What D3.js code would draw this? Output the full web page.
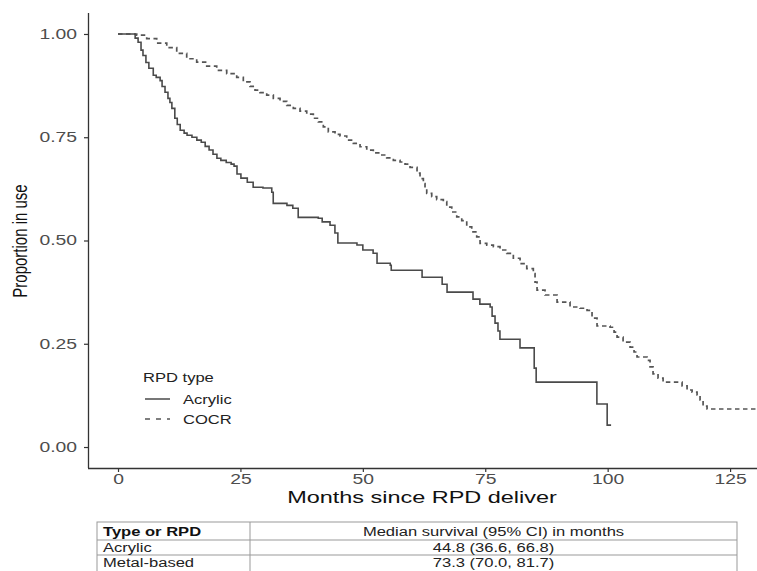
<!DOCTYPE html>
<html>
<head>
<meta charset="utf-8">
<script src="https://cdn.jsdelivr.net/npm/d3@7"></script>
<style>
  html, body { margin: 0; padding: 0; background: #fff; }
  svg { display: block; font-family: "Liberation Sans", Arial, sans-serif; }
</style>
</head>
<body>
<svg id="chart" width="757" height="571"></svg>
<script>
// ---- data ----
const acrylicTime = [0, 3.5, 4.1, 4.7, 5.1, 5.7, 6.3, 7.2, 7.8, 8.6, 9.0, 9.6, 10.2, 10.6, 11.0, 11.6, 12.1, 12.7, 13.5, 14.1, 15.1, 16.1, 17.0, 17.8, 18.6, 19.4, 20.2, 21.0, 22.1, 23.1, 23.7, 24.3, 25.1, 26.4, 27.6, 29.6, 31.4, 31.7, 34.5, 35.7, 36.8, 40.9, 41.7, 43.3, 44.3, 44.9, 48.8, 50.0, 52.1, 52.9, 55.6, 55.8, 62.1, 66.2, 67.2, 72.5, 73.9, 76.0, 76.4, 77.0, 77.6, 78.0, 82.1, 85.0, 85.4, 97.8, 99.9, 100.7];
const acrylicSurv = [1, 0.99, 0.980, 0.961, 0.948, 0.931, 0.917, 0.900, 0.895, 0.887, 0.873, 0.859, 0.844, 0.834, 0.820, 0.796, 0.781, 0.767, 0.760, 0.755, 0.750, 0.743, 0.738, 0.728, 0.719, 0.709, 0.699, 0.694, 0.689, 0.685, 0.680, 0.661, 0.651, 0.641, 0.629, 0.627, 0.617, 0.590, 0.585, 0.578, 0.556, 0.554, 0.545, 0.537, 0.518, 0.494, 0.489, 0.477, 0.469, 0.445, 0.440, 0.428, 0.411, 0.394, 0.375, 0.358, 0.346, 0.339, 0.317, 0.300, 0.281, 0.261, 0.240, 0.191, 0.157, 0.104, 0.053, 0.053];

const cocrTime = [0, 3.06, 3.82, 5.86, 7.90, 9.95, 11.99, 14.03, 16.07, 18.12, 20.16, 22.20, 24.24, 25.59, 26.96, 27.98, 29.00, 30.37, 31.72, 33.09, 34.46, 35.80, 37.17, 38.54, 39.89, 40.91, 41.93, 42.95, 44.32, 45.34, 46.71, 48.06, 49.43, 50.80, 52.14, 53.51, 54.88, 56.23, 57.60, 58.62, 59.64, 61.07, 61.68, 62.36, 62.70, 63.05, 64.07, 65.09, 66.44, 67.14, 68.16, 69.18, 70.20, 71.22, 72.24, 73.26, 73.94, 75.31, 76.66, 78.02, 79.39, 80.74, 82.11, 83.48, 84.82, 85.17, 85.58, 87.21, 89.67, 92.32, 94.36, 95.79, 96.81, 97.83, 100.49, 101.31, 101.92, 103.15, 104.58, 105.39, 106.00, 108.05, 108.66, 109.27, 110.29, 111.32, 115.20, 116.22, 117.24, 118.26, 118.87, 119.49, 120.30, 131];
const cocrSurv = [1, 1, 0.997, 0.989, 0.978, 0.967, 0.953, 0.940, 0.932, 0.922, 0.912, 0.904, 0.895, 0.884, 0.873, 0.864, 0.858, 0.852, 0.844, 0.837, 0.827, 0.820, 0.813, 0.806, 0.796, 0.787, 0.775, 0.763, 0.757, 0.753, 0.743, 0.735, 0.727, 0.719, 0.712, 0.707, 0.700, 0.694, 0.690, 0.685, 0.677, 0.663, 0.650, 0.638, 0.626, 0.614, 0.606, 0.599, 0.594, 0.581, 0.569, 0.557, 0.548, 0.533, 0.521, 0.509, 0.493, 0.489, 0.485, 0.477, 0.469, 0.457, 0.444, 0.432, 0.420, 0.399, 0.380, 0.368, 0.351, 0.339, 0.336, 0.331, 0.312, 0.293, 0.290, 0.278, 0.266, 0.254, 0.242, 0.230, 0.218, 0.210, 0.194, 0.177, 0.167, 0.157, 0.148, 0.138, 0.133, 0.126, 0.114, 0.099, 0.092, 0.092];

const xTicks = [0, 25, 50, 75, 100, 125];
const yTicks = [0, 0.25, 0.5, 0.75, 1];
const legendTitle = "RPD type";
const legendLabels = ["Acrylic", "COCR"];
const xTitle = "Months since RPD deliver";
const yTitle = "Proportion in use";
const tableHeader = ["Type or RPD", "Median survival (95% CI) in months"];
const tableTypes = ["Acrylic", "Metal-based"];
const tableMedians = ["44.8 (36.6, 66.8)", "73.3 (70.0, 81.7)"];

// ---- layout ----
const SX = 1.38; // horizontal stretch of the original image
const svg = d3.select("#chart");
const x = d3.scaleLinear().domain([-6.13, 130.5]).range([88, 757]);
const y = d3.scaleLinear().domain([-0.0508, 1.0508]).range([468, 13]);

function stretchedText(g, tx, ty, str, opts) {
  return g.append("text")
    .attr("transform", `translate(${tx},${ty}) scale(${SX},1)` + (opts.rotate ? ` rotate(${opts.rotate})` : ""))
    .attr("text-anchor", opts.anchor || "start")
    .attr("font-size", opts.size)
    .attr("fill", opts.fill || "#000")
    .attr("font-weight", opts.weight || "normal")
    .text(str);
}

// clip
svg.append("clipPath").attr("id", "clip").append("rect")
  .attr("x", 88).attr("y", 0).attr("width", 669).attr("height", 468);

// curves
const line = d3.line().x(d => x(d[0])).y(d => y(d[1])).curve(d3.curveStepAfter);
const acrylic = acrylicTime.map((t, i) => [t, acrylicSurv[i]]);
const cocr = cocrTime.map((t, i) => [t, cocrSurv[i]]);
const plot = svg.append("g").attr("clip-path", "url(#clip)");
plot.append("path").datum(cocr).attr("d", line)
  .attr("fill", "none").attr("stroke", "#555").attr("stroke-width", 1.7)
  .attr("stroke-dasharray", "4.5,3.5");
plot.append("path").datum(acrylic).attr("d", line)
  .attr("fill", "none").attr("stroke", "#4a4a4a").attr("stroke-width", 1.6);

// axes
const yAxis = svg.append("g").attr("transform", "translate(88,0)")
  .call(d3.axisLeft(y).tickValues(yTicks).tickFormat(d3.format(".2f")).tickSize(4).tickSizeOuter(0));
const xAxis = svg.append("g").attr("transform", "translate(0,468)")
  .call(d3.axisBottom(x).tickValues(xTicks).tickSize(4).tickSizeOuter(0));
[yAxis, xAxis].forEach(a => {
  a.select(".domain").attr("stroke", "#333").attr("stroke-width", 1.3);
  a.selectAll(".tick line").attr("stroke", "#333").attr("stroke-width", 1.2);
  a.selectAll(".tick text").attr("font-size", 14).attr("fill", "#4d4d4d")
    .attr("font-family", "Liberation Sans, Arial, sans-serif");
});
yAxis.selectAll(".tick text").attr("x", null)
  .attr("transform", `translate(-11,0) scale(${SX},1)`);
xAxis.selectAll(".tick text").attr("y", null).attr("dy", null)
  .attr("transform", `translate(0,16) scale(${SX},1)`);
yAxis.select(".domain").attr("d", "M0.5,13V468");
xAxis.select(".domain").attr("d", "M88,0.5H757");

// titles
stretchedText(svg, 422, 503, xTitle, { size: 17, anchor: "middle", fill: "#111" });
stretchedText(svg, 27, 241, yTitle, { size: 15, anchor: "middle", rotate: -90, fill: "#111" });

// legend
const lg = svg.append("g");
stretchedText(lg, 143, 382, legendTitle, { size: 12, fill: "#222" });
legendLabels.forEach((lab, i) => {
  const ly = 399 + i * 20;
  lg.append("line").attr("x1", 145).attr("x2", 170).attr("y1", ly).attr("y2", ly)
    .attr("stroke", i === 0 ? "#4a4a4a" : "#555").attr("stroke-width", 1.5)
    .attr("stroke-dasharray", i === 0 ? null : "5,6");
  stretchedText(lg, 183, ly + 5, lab, { size: 12, fill: "#222" });
});

// table
const tg = svg.append("g");
const tL = 97, tR = 737, tDiv = 250;
const rowY = [522, 540, 555];
tg.append("rect").attr("x", tL).attr("y", rowY[0]).attr("width", tR - tL).attr("height", 60)
  .attr("fill", "none").attr("stroke", "#999").attr("stroke-width", 1);
tg.append("line").attr("x1", tDiv).attr("x2", tDiv).attr("y1", rowY[0]).attr("y2", 571)
  .attr("stroke", "#999");
[rowY[1], rowY[2]].forEach(yy => tg.append("line").attr("x1", tL).attr("x2", tR)
  .attr("y1", yy).attr("y2", yy).attr("stroke", "#999"));
const midC = (tDiv + tR) / 2;
stretchedText(tg, 103, 536, tableHeader[0], { size: 12, weight: "bold", fill: "#111" });
stretchedText(tg, midC, 536, tableHeader[1], { size: 12, anchor: "middle", fill: "#222" });
tableTypes.forEach((tp, i) => {
  const by = 552 + i * 15;
  stretchedText(tg, 103, by, tp, { size: 12, fill: "#222" });
  stretchedText(tg, midC, by, tableMedians[i], { size: 12, anchor: "middle", fill: "#222" });
});
</script>
</body>
</html>
